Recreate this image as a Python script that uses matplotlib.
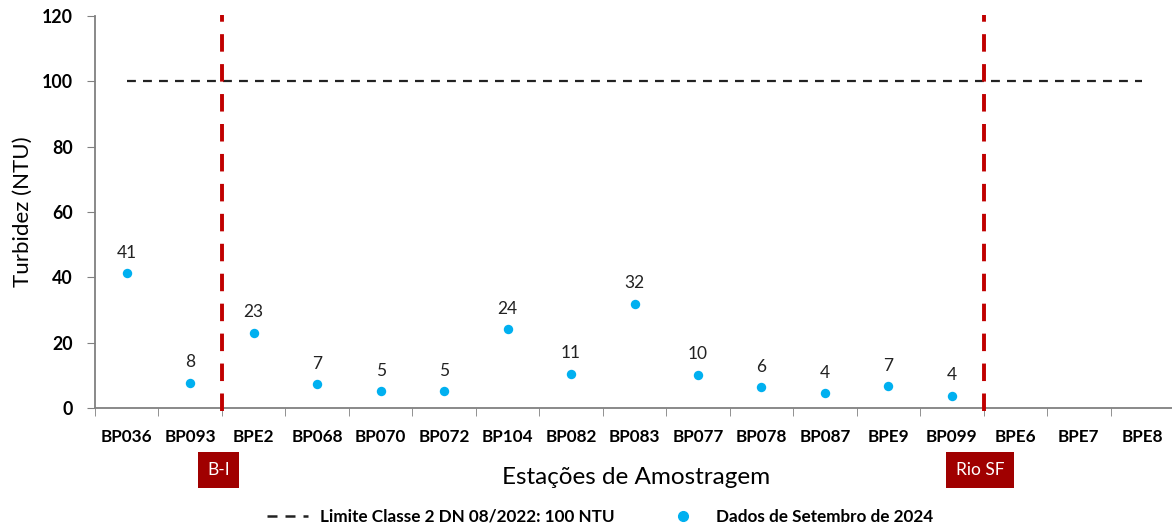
import numpy as np
import matplotlib.pyplot as plt
from matplotlib.lines import Line2D

plt.rcParams['font.family'] = ['Lato', 'DejaVu Sans']

# data #
stations = ['BP036', 'BP093', 'BPE2', 'BP068', 'BP070', 'BP072', 'BP104', 'BP082', 'BP083',
            'BP077', 'BP078', 'BP087', 'BPE9', 'BP099', 'BPE6', 'BPE7', 'BPE8']
turbidity = [41.2, 7.7, 23.1, 7.3, 5.1, 5.1, 24.1, 10.5, 31.9, 10.2, 6.4, 4.5, 6.7, 3.8,
             np.nan, np.nan, np.nan]
labels = ['41', '8', '23', '7', '5', '5', '24', '11', '32', '10', '6', '4', '7', '4', '', '', '']
limit = 100
dividers = [1.5, 13.5]          # boundaries B-I and Rio SF
divider_names = ['B-I', 'Rio SF']

dot_color = '#00B0F0'
red = '#C00000'
box_red = '#A00000'

fig = plt.figure(figsize=(11.72, 5.29), dpi=100)
ax = fig.add_axes([95/1172, 1-408/529, 1079/1172, 392/529])

x = np.arange(len(stations))
ax.scatter(x, turbidity, s=46, color=dot_color, zorder=3, linewidths=0)
for xi, yi, lab in zip(x, turbidity, labels):
    if lab:
        ax.annotate(lab, (xi, yi), xytext=(0, 9), textcoords='offset points',
                    ha='center', va='bottom', fontsize=12.5, color='#222222')

# class 2 limit
ax.plot([x[0], x[-1]], [limit, limit], ls=(0, (4, 3.2)), color='#222222', lw=1.6, zorder=2)

# region dividers
for d in dividers:
    ax.plot([d, d], [-0.8, 120.3], ls=(0, (4.5, 3.2)), color=red, lw=2.8, zorder=4, clip_on=False)

ax.set_xlim(-0.5, len(stations) - 0.5)
ax.set_ylim(0, 120)
ax.set_yticks(range(0, 121, 20))
ax.set_xticks(x)
ax.set_xticklabels(stations, fontweight='bold', fontsize=12.3)
ax.set_xticks(np.arange(-0.5, len(stations), 1), minor=True)
ax.tick_params(axis='x', which='major', length=0, pad=15)
ax.tick_params(axis='x', which='minor', length=6, color='#808080', direction='out')
ax.tick_params(axis='y', length=6, color='#808080', labelsize=12.8, pad=10)
for t in ax.get_yticklabels():
    t.set_fontweight('bold')

for s in ['top', 'right']:
    ax.spines[s].set_visible(False)
for s in ['left', 'bottom']:
    ax.spines[s].set_color('#808080')
    ax.spines[s].set_linewidth(1.3)

ax.set_ylabel('Turbidez (NTU)', fontsize=16, labelpad=6)
fig.text(636/1172, 1-478/529, 'Estações de Amostragem', ha='center', va='center', fontsize=17.5)

# region boxes
for d, name in zip(dividers, divider_names):
    xc = ax.transData.transform((d, 0))[0] / fig.bbox.width - 0.003
    fig.text(xc, 1-470/529, name, ha='center', va='center', fontsize=12.5, color='white',
             bbox=dict(boxstyle='square,pad=0.55', fc=box_red, ec='none'))

handles = [Line2D([], [], ls=(0, (4, 3.2)), color='#222222', lw=1.8),
           Line2D([], [], ls='none', marker='o', ms=7, color=dot_color)]
fig.legend(handles, ['Limite Classe 2 DN 08/2022: 100 NTU', 'Dados de Setembro de 2024'],
           loc='center', bbox_to_anchor=(600/1172, 1-517/529), ncol=2, frameon=False,
           prop={'weight': 'bold', 'size': 12.3}, handlelength=2.4, handletextpad=0.7,
           columnspacing=2.8)

fig.savefig('out.png', dpi=100)
